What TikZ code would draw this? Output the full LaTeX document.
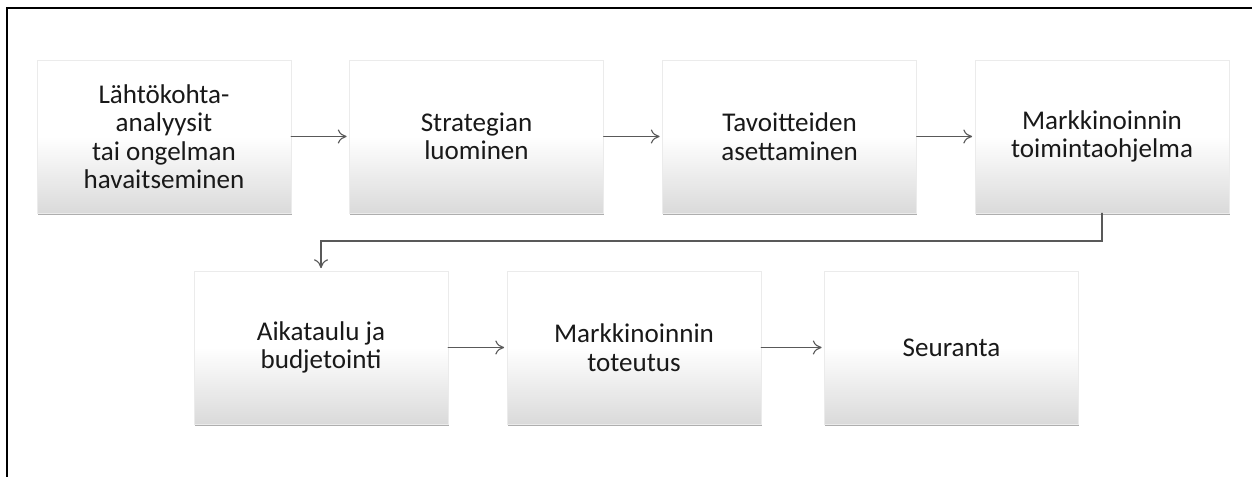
\documentclass[tikz,border=0pt]{standalone}
\usepackage{fontspec}
\setmainfont{Carlito}
\usepackage{xcolor}
\usepackage{tikz}
\usetikzlibrary{arrows.meta, calc, shadows}
\definecolor{linegray}{HTML}{595959}
\definecolor{boxgray}{HTML}{DADADA}
\tikzset{
	stage/.style={minimum width=5.08cm, minimum height=3.06cm, inner sep=0pt, align=center,
		draw=black!8, line width=0.3pt, top color=white, bottom color=boxgray, middle color=white,
		drop shadow={shadow xshift=0.4pt, shadow yshift=-1.4pt, opacity=0.45, fill=black!70},
		font=\fontsize{15.4}{16.2}\selectfont, text=black!90},
	flow/.style={linegray, line width=0.65pt, -{To[length=5pt, width=8pt]}, shorten >=1.5pt}
}

\begin{document}
\begin{tikzpicture}[line cap=round]

	\useasboundingbox (0,0) rectangle (25.04,9.54);
	\draw[line width=1.2pt, line cap=butt] (0.14,-0.1) -- (0.14,9.38) -- (25.2,9.38);

	% ylarivi
	\node[stage] (L) at (3.28,6.81) {Lähtökohta-\\analyysit\\tai ongelman\\havaitseminen};
	\node[stage] (S) at (9.53,6.81) {Strategian\\luominen};
	\node[stage] (T) at (15.79,6.81) {Tavoitteiden\\asettaminen};
	\node[stage] (M) at (22.04,6.81) {Markkinoinnin\\toimintaohjelma};

	% alarivi
	\node[stage] (A) at (6.42,2.59) {Aikataulu ja\\budjetointi};
	\node[stage] (K) at (12.68,2.59) {Markkinoinnin\\toteutus};
	\node[stage] (R) at (19.03,2.59) {Seuranta};

	\coordinate (B) at (6.42,4.72);

	\draw[flow] (L) -- (S);
	\draw[flow] (S) -- (T);
	\draw[flow] (T) -- (M);
	\draw[flow] (M.south) |- (B) -- (A.north);
	\draw[flow] (A) -- (K);
	\draw[flow] (K) -- (R);

\end{tikzpicture}
\end{document}
